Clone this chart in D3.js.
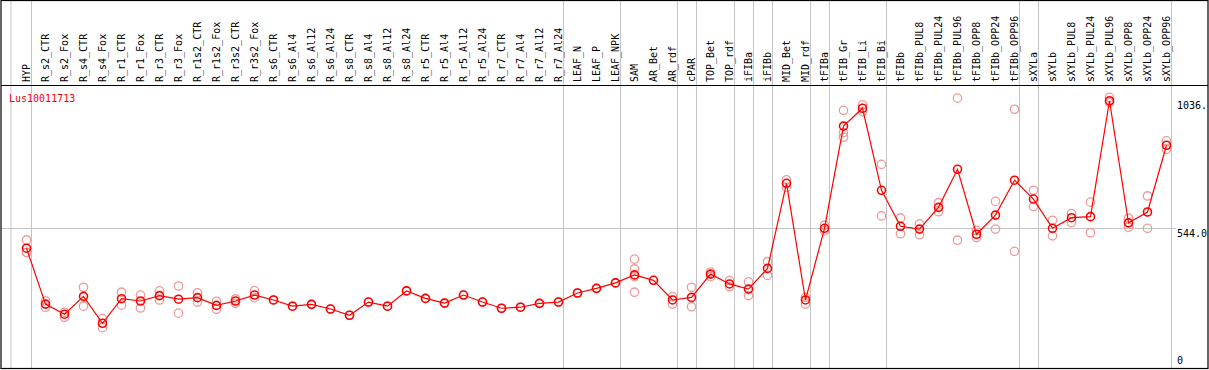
<!DOCTYPE html>
<html>
<head>
<meta charset="utf-8">
<script src="https://cdn.jsdelivr.net/npm/d3@7"></script>
<style>
  body { margin: 0; background: #fff; }
  text { font-family: "DejaVu Sans Mono", monospace; font-size: 10px; }
</style>
</head>
<body>
<svg></svg>
<script>
var geneName = "Lus10011713";

var categories = ["HYP", "R_s2_CTR", "R_s2_Fox", "R_s4_CTR", "R_s4_Fox", "R_r1_CTR", "R_r1_Fox",
  "R_r3_CTR", "R_r3_Fox", "R_r1s2_CTR", "R_r1s2_Fox", "R_r3s2_CTR", "R_r3s2_Fox", "R_s6_CTR",
  "R_s6_Al4", "R_s6_Al12", "R_s6_Al24", "R_s8_CTR", "R_s8_Al4", "R_s8_Al12", "R_s8_Al24",
  "R_r5_CTR", "R_r5_Al4", "R_r5_Al12", "R_r5_Al24", "R_r7_CTR", "R_r7_Al4", "R_r7_Al12", "R_r7_Al24",
  "LEAF_N", "LEAF_P", "LEAF_NPK", "SAM", "AR_Bet", "AR_rdf", "cPAR", "TOP_Bet", "TOP_rdf",
  "iFIBa", "iFIBb", "MID_Bet", "MID_rdf", "tFIBa", "tFIB_Gr", "tFIB_Li", "tFIB_Bi", "tFIBb",
  "tFIBb_PUL8", "tFIBb_PUL24", "tFIBb_PUL96", "tFIBb_OPP8", "tFIBb_OPP24", "tFIBb_OPP96",
  "sXYLa", "sXYLb", "sXYLb_PUL8", "sXYLb_PUL24", "sXYLb_PUL96", "sXYLb_OPP8", "sXYLb_OPP24", "sXYLb_OPP96"];

// mean expression per sample
var means = [466, 250, 211, 280, 176, 271, 262, 283, 269, 275, 245, 262, 285, 266,
  242, 249, 231, 207, 258, 242, 301, 272, 254, 285, 258, 234, 238, 253, 258,
  293, 311, 332, 363, 342, 266, 276, 366, 328, 308, 388, 717, 266, 543, 938, 1007, 690, 551,
  540, 624, 771, 520, 594, 729, 656, 543, 584, 588, 1036, 564, 606, 864];

// individual replicates
var replicates = [[498, 450, 450], [262, 238], [218, 199], [315, 242], [194, 159], [296, 246], [285, 235],
  [301, 266], [320, 215], [294, 258], [261, 230], [270, 253], [302, 275], [266],
  [242], [249], [231], [207], [258], [242], [301], [272], [254], [285], [258], [234], [238], [253], [258],
  [293], [311], [332], [424, 386, 356, 296], [342], [279, 250], [315, 240], [374, 356], [341, 317],
  [336, 283], [414, 361], [730, 702], [276, 250], [555, 534], [999, 913, 895], [1020, 994], [790, 591], [583, 522],
  [560, 518], [642, 607], [1046, 497], [535, 507], [647, 540], [1003, 454], [690, 627], [574, 514],
  [600, 565], [644, 526], [1049, 1029], [582, 547], [668, 543], [881, 848]];

var yTicks = [0, 544.0, 1036.0];

// group separators sit after these samples
var groupEnds = ["HYP", "R_r7_Al24", "LEAF_NPK", "AR_rdf", "cPAR", "TOP_rdf", "iFIBa", "iFIBb",
  "MID_rdf", "tFIBa", "tFIB_Bi", "tFIBb_OPP96", "sXYLa", "sXYLb_OPP96"];

var screen = { width: 1209, height: 370 };
var frame = { left: 1, right: 1208, top: 0.5, header: 85.5, bottom: 368.5 };

var svg = d3.select("svg")
  .attr("width", screen.width)
  .attr("height", screen.height);

var xScale = d3.scalePoint()
  .domain(categories)
  .range([26.5, 1166.5]);

var yScale = d3.scaleLinear()
  .domain([0, 1093])
  .range([368.8, 86]);

var grid = svg.append("g").attr("class", "grid");

// vertical group lines
grid.append("line")
  .attr("x1", xScale(categories[0]) - 15.5).attr("x2", xScale(categories[0]) - 15.5)
  .attr("y1", 0).attr("y2", frame.bottom)
  .attr("stroke", "#c4c4c4");

grid.selectAll("line.sep")
  .data(groupEnds)
  .enter()
  .append("line")
  .classed("sep", true)
  .attr("x1", function(d) { return Math.round(xScale(d) + 4) + 0.5; })
  .attr("x2", function(d) { return Math.round(xScale(d) + 4) + 0.5; })
  .attr("y1", 0)
  .attr("y2", frame.bottom)
  .attr("stroke", "#c4c4c4");

// middle horizontal reference
grid.append("line")
  .attr("x1", frame.left).attr("x2", 1176)
  .attr("y1", Math.round(yScale(yTicks[1])) + 0.5)
  .attr("y2", Math.round(yScale(yTicks[1])) + 0.5)
  .attr("stroke", "#c4c4c4");

// header labels
svg.append("g")
  .selectAll("text")
  .data(categories)
  .enter()
  .append("text")
  .attr("transform", function(d) { return "translate(" + (xScale(d) + 3) + ",82) rotate(-90)"; })
  .attr("fill", "#000")
  .text(function(d) { return d; });

// right axis labels, fixed width of 5 characters like the original
svg.append("g")
  .selectAll("text")
  .data(yTicks)
  .enter()
  .append("text")
  .attr("x", 1177)
  .attr("y", function(d) { return Math.min(yScale(d) + 8.5, 364); })
  .attr("fill", "#000")
  .text(function(d) { return d === 0 ? "0" : d.toFixed(1).slice(0, 5); });

var plot = svg.append("g").classed("plot", true);

// replicate points
var reps = [];
replicates.forEach(function(r, i) {
  r.forEach(function(v) { reps.push({ cat: categories[i], v: v }); });
});

plot.selectAll("circle.rep")
  .data(reps)
  .enter()
  .append("circle")
  .classed("rep", true)
  .attr("cx", function(d) { return xScale(d.cat); })
  .attr("cy", function(d) { return yScale(d.v); })
  .attr("r", 4.2)
  .attr("fill", "none")
  .attr("stroke", "#ee9a9a")
  .attr("stroke-width", 1.3);

var line = d3.line()
  .x(function(d, i) { return xScale(categories[i]); })
  .y(function(d) { return yScale(d); });

plot.append("path")
  .datum(means)
  .attr("d", line)
  .attr("fill", "none")
  .attr("stroke", "#ff0000")
  .attr("stroke-width", 1.2);

plot.selectAll("circle.mean")
  .data(means)
  .enter()
  .append("circle")
  .classed("mean", true)
  .attr("cx", function(d, i) { return xScale(categories[i]); })
  .attr("cy", function(d) { return yScale(d); })
  .attr("r", 4)
  .attr("fill", "none")
  .attr("stroke", "#ff0000")
  .attr("stroke-width", 1.6);

svg.append("text")
  .attr("x", 9)
  .attr("y", 101.5)
  .attr("fill", "#ff0000")
  .text(geneName);

// frame
svg.append("rect")
  .attr("x", frame.left).attr("y", frame.top)
  .attr("width", frame.right - frame.left)
  .attr("height", frame.bottom - frame.top)
  .attr("fill", "none")
  .attr("stroke", "#000")
  .attr("stroke-width", 1.2);

svg.append("line")
  .attr("x1", frame.left).attr("x2", frame.right)
  .attr("y1", frame.header).attr("y2", frame.header)
  .attr("stroke", "#000");
</script>
</body>
</html>
